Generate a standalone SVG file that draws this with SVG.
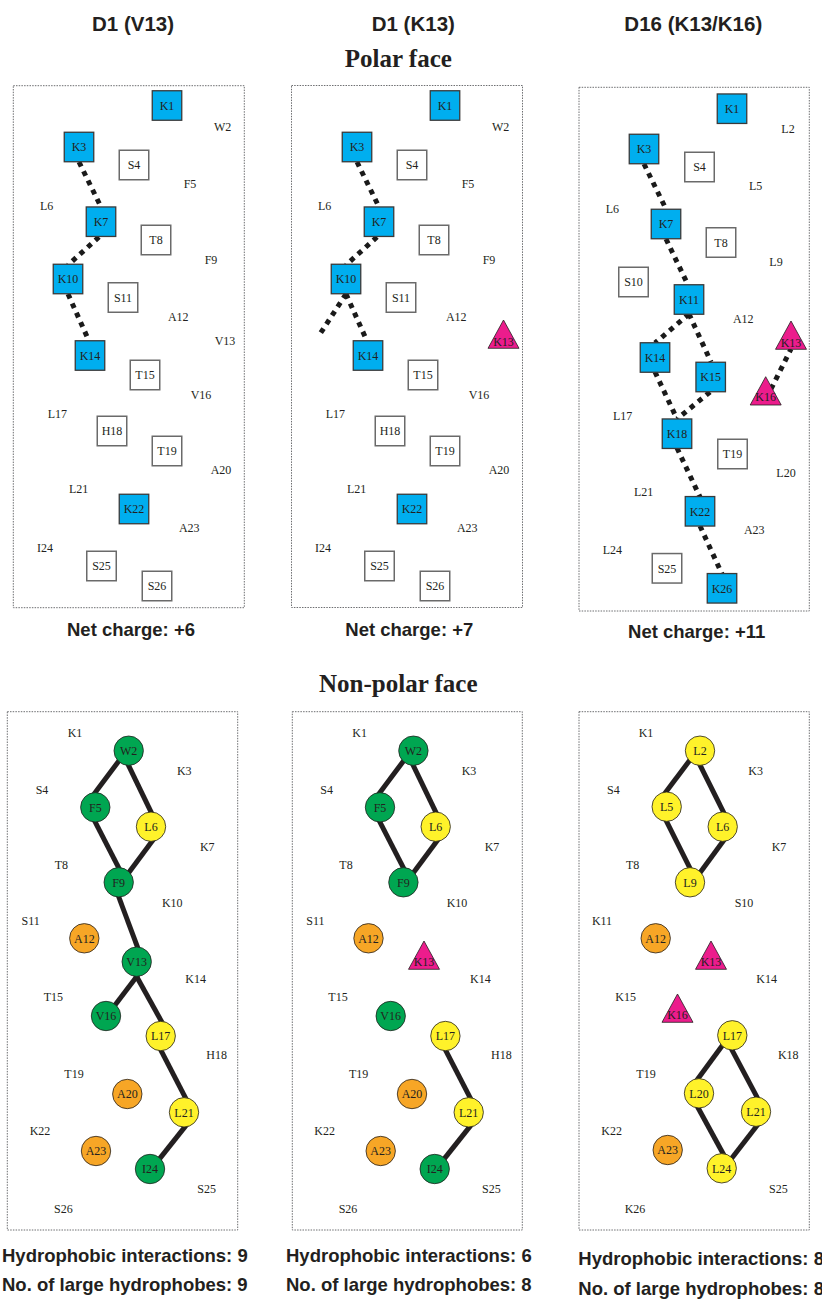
<svg xmlns="http://www.w3.org/2000/svg" width="822" height="1299" viewBox="0 0 822 1299">
  <style>
    .bg { fill: #ffffff; }
    .frame { fill: none; stroke: #6d6e71; stroke-width: 1; stroke-dasharray: 1.5 1.2; }
    .title { font-family: "Liberation Sans", Arial, sans-serif; font-weight: bold; font-size: 20.5px; fill: #231f20; text-anchor: middle; }
    .face { font-family: "Liberation Serif", "Times New Roman", serif; font-weight: bold; font-size: 25px; fill: #231f20; text-anchor: middle; }
    .stat { font-family: "Liberation Sans", Arial, sans-serif; font-weight: bold; font-size: 18.5px; fill: #231f20; }
    .statc { text-anchor: middle; }
    .res { font-family: "Liberation Serif", "Times New Roman", serif; font-size: 12px; fill: #231f20; stroke: none; text-anchor: middle; }
    .pos > use { fill: #00aeef; stroke: #3a3a3a; stroke-width: 1.3; }
    .neu > use { fill: #ffffff; stroke: #6a6a6a; stroke-width: 1.5; }
    .tri > use { fill: #ec1c8c; stroke: #231f20; stroke-width: 0.8; }
    .grn > use { fill: #00a651; stroke: #231f20; stroke-width: 0.8; }
    .yel > use { fill: #fff22a; stroke: #231f20; stroke-width: 0.8; }
    .org > use { fill: #f7a626; stroke: #231f20; stroke-width: 0.8; }
    .salt { fill: none; stroke: #1a1a1a; stroke-width: 5; stroke-dasharray: 5 5.3; }
    .hyd { fill: none; stroke: #231f20; stroke-width: 5; }
  </style>
  <defs>
    <rect id="box" x="-14.75" y="-14.75" width="29.5" height="29.5"/>
    <polygon id="tr" points="0,0 -15.5,28.3 15.5,28.3"/>
    <circle id="ball" r="14.7"/>
  </defs>

  <rect class="bg" x="0" y="0" width="822" height="1299"/>

  <!-- headings -->
  <g id="headings">
    <text class="title" x="133" y="30.5">D1 (V13)</text>
    <text class="title" x="413.3" y="30.5">D1 (K13)</text>
    <text class="title" x="693.3" y="30.5">D16 (K13/K16)</text>
    <text class="face" x="398.3" y="66.5">Polar face</text>
    <text class="face" x="398.3" y="691.5">Non-polar face</text>
  </g>

  <!-- frames -->
  <g id="frames">
    <rect class="frame" x="13.3" y="85.7" width="231" height="522"/>
    <rect class="frame" x="291.5" y="85.5" width="231" height="522"/>
    <rect class="frame" x="579" y="87.3" width="230.3" height="523.7"/>
    <rect class="frame" x="7.3" y="711.7" width="230.4" height="518.3"/>
    <rect class="frame" x="292.3" y="711.7" width="230" height="518.3"/>
    <rect class="frame" x="579" y="711.7" width="230.3" height="518.3"/>
  </g>

  <!-- connectors: salt bridges (dotted) and hydrophobic contacts (solid) -->
  <g id="connectors">
    <!-- polar face, D1 (V13) -->
    <line class="salt" x1="79" y1="162" x2="101" y2="207"/>
    <line class="salt" x1="99" y1="237" x2="68" y2="265"/>
    <line class="salt" x1="68" y1="294" x2="89" y2="341"/>
    <!-- polar face, D1 (K13) -->
    <line class="salt" x1="357" y1="162" x2="379" y2="207"/>
    <line class="salt" x1="377" y1="237" x2="346" y2="265"/>
    <line class="salt" x1="346" y1="294" x2="367" y2="341"/>
    <line class="salt" x1="346" y1="294" x2="320" y2="334"/>
    <!-- polar face, D16 (K13/K16) -->
    <line class="salt" x1="644" y1="164" x2="666" y2="209"/>
    <line class="salt" x1="666" y1="239" x2="688" y2="285"/>
    <line class="salt" x1="689" y1="314" x2="655" y2="343"/>
    <line class="salt" x1="689" y1="314" x2="711" y2="362"/>
    <line class="salt" x1="655" y1="372" x2="677" y2="419"/>
    <line class="salt" x1="710" y1="392" x2="677" y2="419"/>
    <line class="salt" x1="677" y1="448" x2="700" y2="497"/>
    <line class="salt" x1="700" y1="526" x2="722" y2="574"/>
    <line class="salt" x1="771" y1="389" x2="791" y2="349"/>

    <!-- non-polar face, D1 (V13) -->
    <line class="hyd" x1="120.7" y1="758.5" x2="92.6" y2="795.9"/>
    <line class="hyd" x1="126.6" y1="761.4" x2="153.4" y2="816.9"/>
    <line class="hyd" x1="93.2" y1="818.1" x2="120.8" y2="871.9"/>
    <line class="hyd" x1="154.1" y1="838.5" x2="125.9" y2="876.5"/>
    <line class="hyd" x1="117.3" y1="893" x2="138.7" y2="950.4"/>
    <line class="hyd" x1="137.9" y1="975.1" x2="112.6" y2="1008.2"/>
    <line class="hyd" x1="134.8" y1="973.2" x2="163.6" y2="1025.2"/>
    <line class="hyd" x1="158.9" y1="1046.4" x2="186.8" y2="1100.3"/>
    <line class="hyd" x1="187.5" y1="1123.6" x2="157.5" y2="1161.4"/>
    <!-- non-polar face, D1 (K13) -->
    <line class="hyd" x1="405.4" y1="758.5" x2="377.3" y2="795.9"/>
    <line class="hyd" x1="411.3" y1="761.4" x2="438.1" y2="816.9"/>
    <line class="hyd" x1="377.9" y1="818.1" x2="405.5" y2="871.9"/>
    <line class="hyd" x1="438.8" y1="838.5" x2="410.6" y2="876.5"/>
    <line class="hyd" x1="443.6" y1="1046.4" x2="471.5" y2="1100.3"/>
    <line class="hyd" x1="472.2" y1="1123.6" x2="442.2" y2="1161.4"/>
    <!-- non-polar face, D16 (K13/K16) -->
    <line class="hyd" x1="692.4" y1="756.8" x2="663.6" y2="794.9"/>
    <line class="hyd" x1="698.2" y1="761.4" x2="725.1" y2="815.3"/>
    <line class="hyd" x1="664.9" y1="818.1" x2="691.8" y2="871.9"/>
    <line class="hyd" x1="725.1" y1="838.5" x2="697.6" y2="875.9"/>
    <line class="hyd" x1="725.1" y1="1041.8" x2="695.9" y2="1081.5"/>
    <line class="hyd" x1="729.8" y1="1045.8" x2="758.6" y2="1100.2"/>
    <line class="hyd" x1="696.4" y1="1104.8" x2="725.2" y2="1157.5"/>
    <line class="hyd" x1="759.2" y1="1122.8" x2="729.2" y2="1161.5"/>
  </g>

  <!-- ===== Polar face, D1 (V13) ===== -->
  <g id="polar-v13">
    <g id="pv-K1" class="pos" transform="translate(167,105.5)"><use href="#box"/><text class="res" y="4.2">K1</text></g>
    <g id="pv-K3" class="pos" transform="translate(79,147)"><use href="#box"/><text class="res" y="4.2">K3</text></g>
    <g id="pv-S4" class="neu" transform="translate(134,165)"><use href="#box"/><text class="res" y="4.2">S4</text></g>
    <g id="pv-K7" class="pos" transform="translate(101,221.7)"><use href="#box"/><text class="res" y="4.2">K7</text></g>
    <g id="pv-T8" class="neu" transform="translate(156,240)"><use href="#box"/><text class="res" y="4.2">T8</text></g>
    <g id="pv-K10" class="pos" transform="translate(68,279)"><use href="#box"/><text class="res" y="4.2">K10</text></g>
    <g id="pv-S11" class="neu" transform="translate(123,297.5)"><use href="#box"/><text class="res" y="4.2">S11</text></g>
    <g id="pv-K14" class="pos" transform="translate(90,355.5)"><use href="#box"/><text class="res" y="4.2">K14</text></g>
    <g id="pv-T15" class="neu" transform="translate(145,375)"><use href="#box"/><text class="res" y="4.2">T15</text></g>
    <g id="pv-H18" class="neu" transform="translate(112,431)"><use href="#box"/><text class="res" y="4.2">H18</text></g>
    <g id="pv-T19" class="neu" transform="translate(167,451)"><use href="#box"/><text class="res" y="4.2">T19</text></g>
    <g id="pv-K22" class="pos" transform="translate(134,509)"><use href="#box"/><text class="res" y="4.2">K22</text></g>
    <g id="pv-S25" class="neu" transform="translate(101.5,566)"><use href="#box"/><text class="res" y="4.2">S25</text></g>
    <g id="pv-S26" class="neu" transform="translate(157,586)"><use href="#box"/><text class="res" y="4.2">S26</text></g>
    <g id="pv-labels">
      <text class="res" x="222.7" y="130.9">W2</text>
      <text class="res" x="190" y="187.5">F5</text>
      <text class="res" x="46.7" y="210.2">L6</text>
      <text class="res" x="211" y="263.5">F9</text>
      <text class="res" x="178.3" y="320.9">A12</text>
      <text class="res" x="225" y="345.2">V13</text>
      <text class="res" x="201" y="398.5">V16</text>
      <text class="res" x="57.3" y="417.5">L17</text>
      <text class="res" x="221" y="473.5">A20</text>
      <text class="res" x="78.7" y="492.5">L21</text>
      <text class="res" x="189.3" y="531.9">A23</text>
      <text class="res" x="45" y="551.9">I24</text>
    </g>
    <text class="stat statc" x="131" y="636">Net charge: +6</text>
  </g>

  <!-- ===== Polar face, D1 (K13) ===== -->
  <g id="polar-k13">
    <g id="pk-K1" class="pos" transform="translate(445,105.5)"><use href="#box"/><text class="res" y="4.2">K1</text></g>
    <g id="pk-K3" class="pos" transform="translate(357,147)"><use href="#box"/><text class="res" y="4.2">K3</text></g>
    <g id="pk-S4" class="neu" transform="translate(412,165)"><use href="#box"/><text class="res" y="4.2">S4</text></g>
    <g id="pk-K7" class="pos" transform="translate(379,221.7)"><use href="#box"/><text class="res" y="4.2">K7</text></g>
    <g id="pk-T8" class="neu" transform="translate(434,240)"><use href="#box"/><text class="res" y="4.2">T8</text></g>
    <g id="pk-K10" class="pos" transform="translate(346,279)"><use href="#box"/><text class="res" y="4.2">K10</text></g>
    <g id="pk-S11" class="neu" transform="translate(401,297.5)"><use href="#box"/><text class="res" y="4.2">S11</text></g>
    <g id="pk-K13" class="tri" transform="translate(503.5,320)"><use href="#tr"/><text class="res" y="25.8">K13</text></g>
    <g id="pk-K14" class="pos" transform="translate(368,355.5)"><use href="#box"/><text class="res" y="4.2">K14</text></g>
    <g id="pk-T15" class="neu" transform="translate(423,375)"><use href="#box"/><text class="res" y="4.2">T15</text></g>
    <g id="pk-H18" class="neu" transform="translate(390,431)"><use href="#box"/><text class="res" y="4.2">H18</text></g>
    <g id="pk-T19" class="neu" transform="translate(445,451)"><use href="#box"/><text class="res" y="4.2">T19</text></g>
    <g id="pk-K22" class="pos" transform="translate(412,509)"><use href="#box"/><text class="res" y="4.2">K22</text></g>
    <g id="pk-S25" class="neu" transform="translate(379.5,566)"><use href="#box"/><text class="res" y="4.2">S25</text></g>
    <g id="pk-S26" class="neu" transform="translate(435,586)"><use href="#box"/><text class="res" y="4.2">S26</text></g>
    <g id="pk-labels">
      <text class="res" x="500.7" y="130.9">W2</text>
      <text class="res" x="468" y="187.5">F5</text>
      <text class="res" x="324.7" y="210.2">L6</text>
      <text class="res" x="489" y="263.5">F9</text>
      <text class="res" x="456.3" y="320.9">A12</text>
      <text class="res" x="479" y="398.5">V16</text>
      <text class="res" x="335.3" y="417.5">L17</text>
      <text class="res" x="499" y="473.5">A20</text>
      <text class="res" x="356.7" y="492.5">L21</text>
      <text class="res" x="467.3" y="531.9">A23</text>
      <text class="res" x="323" y="551.9">I24</text>
    </g>
    <text class="stat statc" x="409.3" y="636">Net charge: +7</text>
  </g>

  <!-- ===== Polar face, D16 (K13/K16) ===== -->
  <g id="polar-d16">
    <g id="pd-K1" class="pos" transform="translate(732,108.7)"><use href="#box"/><text class="res" y="4.2">K1</text></g>
    <g id="pd-K3" class="pos" transform="translate(644,149)"><use href="#box"/><text class="res" y="4.2">K3</text></g>
    <g id="pd-S4" class="neu" transform="translate(699.5,167)"><use href="#box"/><text class="res" y="4.2">S4</text></g>
    <g id="pd-K7" class="pos" transform="translate(666,224)"><use href="#box"/><text class="res" y="4.2">K7</text></g>
    <g id="pd-T8" class="neu" transform="translate(721,242.5)"><use href="#box"/><text class="res" y="4.2">T8</text></g>
    <g id="pd-S10" class="neu" transform="translate(633.5,282)"><use href="#box"/><text class="res" y="4.2">S10</text></g>
    <g id="pd-K11" class="pos" transform="translate(689,299.5)"><use href="#box"/><text class="res" y="4.2">K11</text></g>
    <g id="pd-K13" class="tri" transform="translate(791,321)"><use href="#tr"/><text class="res" y="26">K13</text></g>
    <g id="pd-K14" class="pos" transform="translate(655,357.5)"><use href="#box"/><text class="res" y="4.2">K14</text></g>
    <g id="pd-K15" class="pos" transform="translate(710.7,377)"><use href="#box"/><text class="res" y="4.2">K15</text></g>
    <g id="pd-K16" class="tri" transform="translate(765.7,376.7)"><use href="#tr"/><text class="res" y="24.5">K16</text></g>
    <g id="pd-K18" class="pos" transform="translate(677,433.7)"><use href="#box"/><text class="res" y="4.2">K18</text></g>
    <g id="pd-T19" class="neu" transform="translate(732.5,454)"><use href="#box"/><text class="res" y="4.2">T19</text></g>
    <g id="pd-K22" class="pos" transform="translate(700,511.3)"><use href="#box"/><text class="res" y="4.2">K22</text></g>
    <g id="pd-S25" class="neu" transform="translate(667,568.3)"><use href="#box"/><text class="res" y="4.2">S25</text></g>
    <g id="pd-K26" class="pos" transform="translate(722,588.3)"><use href="#box"/><text class="res" y="4.2">K26</text></g>
    <g id="pd-labels">
      <text class="res" x="788" y="132.5">L2</text>
      <text class="res" x="755.7" y="189.9">L5</text>
      <text class="res" x="612.3" y="212.5">L6</text>
      <text class="res" x="776" y="266.2">L9</text>
      <text class="res" x="743.3" y="323.2">A12</text>
      <text class="res" x="622.7" y="419.9">L17</text>
      <text class="res" x="786" y="476.9">L20</text>
      <text class="res" x="643.7" y="496.2">L21</text>
      <text class="res" x="754.3" y="534.2">A23</text>
      <text class="res" x="612.3" y="554.2">L24</text>
    </g>
    <text class="stat statc" x="696.7" y="638">Net charge: +11</text>
  </g>

  <!-- ===== Non-polar face, D1 (V13) ===== -->
  <g id="nonpolar-v13">
    <g id="nv-W2" class="grn" transform="translate(128.7,750.7)"><use href="#ball"/><text class="res" y="4.2">W2</text></g>
    <g id="nv-F5" class="grn" transform="translate(95.3,807.3)"><use href="#ball"/><text class="res" y="4.2">F5</text></g>
    <g id="nv-L6" class="yel" transform="translate(151,826.7)"><use href="#ball"/><text class="res" y="4.2">L6</text></g>
    <g id="nv-F9" class="grn" transform="translate(118.7,882.3)"><use href="#ball"/><text class="res" y="4.2">F9</text></g>
    <g id="nv-A12" class="org" transform="translate(84.3,938.3)"><use href="#ball"/><text class="res" y="4.2">A12</text></g>
    <g id="nv-V13" class="grn" transform="translate(136.7,961.7)"><use href="#ball"/><text class="res" y="4.2">V13</text></g>
    <g id="nv-V16" class="grn" transform="translate(106,1016)"><use href="#ball"/><text class="res" y="4.2">V16</text></g>
    <g id="nv-L17" class="yel" transform="translate(160.7,1036)"><use href="#ball"/><text class="res" y="4.2">L17</text></g>
    <g id="nv-A20" class="org" transform="translate(127.3,1094)"><use href="#ball"/><text class="res" y="4.2">A20</text></g>
    <g id="nv-L21" class="yel" transform="translate(184,1112.3)"><use href="#ball"/><text class="res" y="4.2">L21</text></g>
    <g id="nv-A23" class="org" transform="translate(96,1151)"><use href="#ball"/><text class="res" y="4.2">A23</text></g>
    <g id="nv-I24" class="grn" transform="translate(150,1169)"><use href="#ball"/><text class="res" y="4.2">I24</text></g>
    <g id="nv-labels">
      <text class="res" x="75" y="736.5">K1</text>
      <text class="res" x="184.3" y="774.9">K3</text>
      <text class="res" x="42" y="793.9">S4</text>
      <text class="res" x="207.3" y="850.9">K7</text>
      <text class="res" x="61.3" y="868.5">T8</text>
      <text class="res" x="172.3" y="906.5">K10</text>
      <text class="res" x="30.7" y="924.9">S11</text>
      <text class="res" x="195.7" y="983.2">K14</text>
      <text class="res" x="53.3" y="1000.9">T15</text>
      <text class="res" x="216.7" y="1059.2">H18</text>
      <text class="res" x="74" y="1078.2">T19</text>
      <text class="res" x="40" y="1135.2">K22</text>
      <text class="res" x="206.7" y="1193.2">S25</text>
      <text class="res" x="63.3" y="1213.2">S26</text>
    </g>
    <text class="stat" x="2" y="1261.5">Hydrophobic interactions: 9</text>
    <text class="stat" x="2" y="1290.5">No. of large hydrophobes: 9</text>
  </g>

  <!-- ===== Non-polar face, D1 (K13) ===== -->
  <g id="nonpolar-k13">
    <g id="nk-W2" class="grn" transform="translate(413.4,750.7)"><use href="#ball"/><text class="res" y="4.2">W2</text></g>
    <g id="nk-F5" class="grn" transform="translate(380,807.3)"><use href="#ball"/><text class="res" y="4.2">F5</text></g>
    <g id="nk-L6" class="yel" transform="translate(435.7,826.7)"><use href="#ball"/><text class="res" y="4.2">L6</text></g>
    <g id="nk-F9" class="grn" transform="translate(403.4,882.3)"><use href="#ball"/><text class="res" y="4.2">F9</text></g>
    <g id="nk-A12" class="org" transform="translate(368.5,938.3)"><use href="#ball"/><text class="res" y="4.2">A12</text></g>
    <g id="nk-K13" class="tri" transform="translate(424,941)"><use href="#tr"/><text class="res" y="25">K13</text></g>
    <g id="nk-V16" class="grn" transform="translate(390.7,1016)"><use href="#ball"/><text class="res" y="4.2">V16</text></g>
    <g id="nk-L17" class="yel" transform="translate(445.4,1036)"><use href="#ball"/><text class="res" y="4.2">L17</text></g>
    <g id="nk-A20" class="org" transform="translate(412,1094)"><use href="#ball"/><text class="res" y="4.2">A20</text></g>
    <g id="nk-L21" class="yel" transform="translate(468.7,1112.3)"><use href="#ball"/><text class="res" y="4.2">L21</text></g>
    <g id="nk-A23" class="org" transform="translate(380.7,1151)"><use href="#ball"/><text class="res" y="4.2">A23</text></g>
    <g id="nk-I24" class="grn" transform="translate(434.7,1169)"><use href="#ball"/><text class="res" y="4.2">I24</text></g>
    <g id="nk-labels">
      <text class="res" x="359.7" y="736.5">K1</text>
      <text class="res" x="469" y="774.9">K3</text>
      <text class="res" x="326.7" y="793.9">S4</text>
      <text class="res" x="492" y="850.9">K7</text>
      <text class="res" x="346" y="868.5">T8</text>
      <text class="res" x="457" y="906.5">K10</text>
      <text class="res" x="315.4" y="924.9">S11</text>
      <text class="res" x="480.4" y="983.2">K14</text>
      <text class="res" x="338" y="1000.9">T15</text>
      <text class="res" x="501.4" y="1059.2">H18</text>
      <text class="res" x="358.7" y="1078.2">T19</text>
      <text class="res" x="324.7" y="1135.2">K22</text>
      <text class="res" x="491.4" y="1193.2">S25</text>
      <text class="res" x="348" y="1213.2">S26</text>
    </g>
    <text class="stat" x="286" y="1261.5">Hydrophobic interactions: 6</text>
    <text class="stat" x="286" y="1290.5">No. of large hydrophobes: 8</text>
  </g>

  <!-- ===== Non-polar face, D16 (K13/K16) ===== -->
  <g id="nonpolar-d16">
    <g id="nd-L2" class="yel" transform="translate(700,750.7)"><use href="#ball"/><text class="res" y="4.2">L2</text></g>
    <g id="nd-L5" class="yel" transform="translate(666.7,806.7)"><use href="#ball"/><text class="res" y="4.2">L5</text></g>
    <g id="nd-L6" class="yel" transform="translate(722.7,826.7)"><use href="#ball"/><text class="res" y="4.2">L6</text></g>
    <g id="nd-L9" class="yel" transform="translate(690,882.3)"><use href="#ball"/><text class="res" y="4.2">L9</text></g>
    <g id="nd-A12" class="org" transform="translate(655.7,938.3)"><use href="#ball"/><text class="res" y="4.2">A12</text></g>
    <g id="nd-K13" class="tri" transform="translate(711,941)"><use href="#tr"/><text class="res" y="25">K13</text></g>
    <g id="nd-K16" class="tri" transform="translate(677.5,994)"><use href="#tr"/><text class="res" y="25">K16</text></g>
    <g id="nd-L17" class="yel" transform="translate(732.3,1035.3)"><use href="#ball"/><text class="res" y="4.2">L17</text></g>
    <g id="nd-L20" class="yel" transform="translate(699,1093.3)"><use href="#ball"/><text class="res" y="4.2">L20</text></g>
    <g id="nd-L21" class="yel" transform="translate(756,1111.7)"><use href="#ball"/><text class="res" y="4.2">L21</text></g>
    <g id="nd-A23" class="org" transform="translate(667.7,1150)"><use href="#ball"/><text class="res" y="4.2">A23</text></g>
    <g id="nd-L24" class="yel" transform="translate(721.7,1168.3)"><use href="#ball"/><text class="res" y="4.2">L24</text></g>
    <g id="nd-labels">
      <text class="res" x="646" y="736.5">K1</text>
      <text class="res" x="755.7" y="774.9">K3</text>
      <text class="res" x="613.3" y="793.9">S4</text>
      <text class="res" x="779" y="850.9">K7</text>
      <text class="res" x="632.7" y="868.5">T8</text>
      <text class="res" x="744" y="906.9">S10</text>
      <text class="res" x="602" y="924.9">K11</text>
      <text class="res" x="766.7" y="983.2">K14</text>
      <text class="res" x="625.7" y="1000.9">K15</text>
      <text class="res" x="788.3" y="1059.2">K18</text>
      <text class="res" x="646" y="1078.2">T19</text>
      <text class="res" x="611.7" y="1135.2">K22</text>
      <text class="res" x="778.3" y="1193.2">S25</text>
      <text class="res" x="635" y="1213.2">K26</text>
    </g>
    <text class="stat" x="578.3" y="1265">Hydrophobic interactions: 8</text>
    <text class="stat" x="578.3" y="1295">No. of large hydrophobes: 8</text>
  </g>
</svg>
